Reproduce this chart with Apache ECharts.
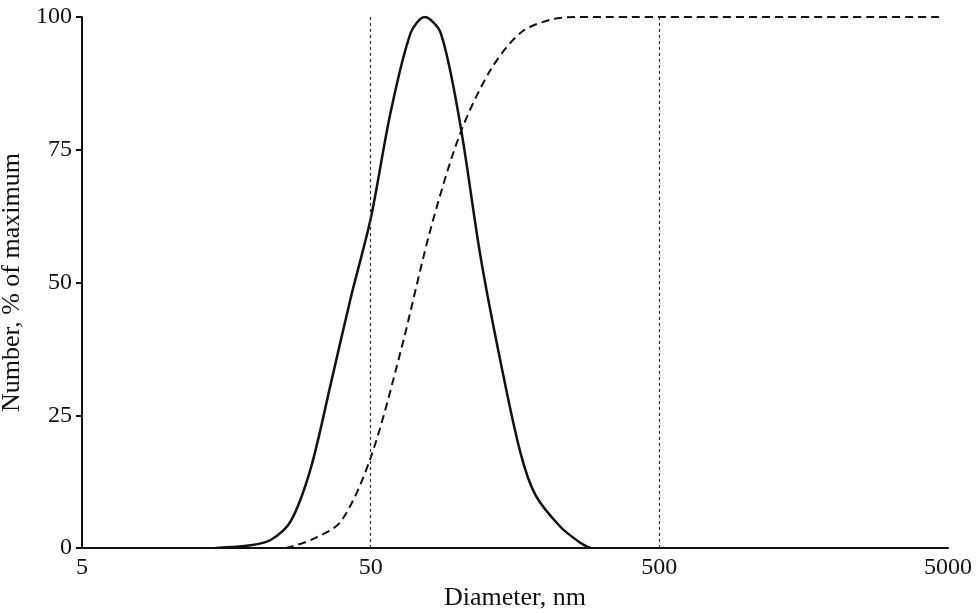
<!DOCTYPE html>
<html><head><meta charset="utf-8">
<script src="https://cdn.jsdelivr.net/npm/echarts@6/dist/echarts.min.js"></script>
<style>html,body{margin:0;background:#fff}#c{width:978px;height:613px}</style>
</head><body><div id="c"></div>
<script>
// number distribution (diameter nm, % of max)
const numD = [14.5, 19.2, 22.5, 26.4, 31.0, 36.4, 42.6, 50, 58.6, 68.8, 76.9, 87.4, 102, 120, 141, 165, 186, 227, 266, 289];
const numV = [0, 0.5, 1.5, 5, 15, 31, 47, 62, 82, 97, 100, 97, 80, 55, 35, 18, 10, 4, 1, 0];
// cumulative
const cumD = [25.4, 31.0, 39.4, 50, 63.5, 80.6, 102, 130, 165, 210, 266, 4690];
const cumV = [0, 1.5, 5, 17, 37, 60, 78, 90, 97, 99.5, 100, 100];
const xTicks = [5, 50, 500, 5000];
const markers = [50, 500];
const font = 'Liberation Serif';

const chart = echarts.init(document.getElementById('c'));
chart.setOption({
  animation: false,
  grid: { left: 82, right: 30, top: 17, bottom: 65, containLabel: false, outerBoundsMode: 'none' },
  xAxis: {
    type: 'log', logBase: 10, min: 5, max: 5000,
    name: 'Diameter, nm', nameLocation: 'middle', nameGap: 34,
    nameTextStyle: { fontFamily: font, fontSize: 26, color: '#111' },
    axisLine: { lineStyle: { color: '#111', width: 2 } },
    axisTick: { show: false }, splitLine: { show: false },
    axisLabel: { fontFamily: font, fontSize: 24, color: '#111', margin: 8,
      customValues: xTicks, formatter: v => String(Math.round(v)) }
  },
  yAxis: {
    type: 'value', min: 0, max: 100, interval: 25,
    name: 'Number, % of maximum', nameLocation: 'middle', nameGap: 52,
    nameTextStyle: { fontFamily: font, fontSize: 26, color: '#111' },
    axisLine: { show: true, lineStyle: { color: '#111', width: 2 } },
    axisTick: { show: true, length: 6, lineStyle: { color: '#111', width: 2 } },
    splitLine: { show: false },
    axisLabel: { fontFamily: font, fontSize: 24, color: '#111', margin: 10 }
  },
  series: [
    {
      type: 'line', smooth: 0.3, symbol: 'none',
      data: numD.map((d, i) => [d, numV[i]]),
      lineStyle: { color: '#111', width: 2.5 },
      markLine: {
        silent: true, symbol: 'none', label: { show: false },
        lineStyle: { color: '#333', type: [3, 3], width: 1.2 },
        data: markers.map(m => [{ coord: [m, 0] }, { coord: [m, 100] }])
      }
    },
    {
      type: 'line', smooth: 0.3, symbol: 'none',
      data: cumD.map((d, i) => [d, cumV[i]]),
      lineStyle: { color: '#111', width: 2, type: [8, 5] }
    }
  ]
});
</script></body></html>
